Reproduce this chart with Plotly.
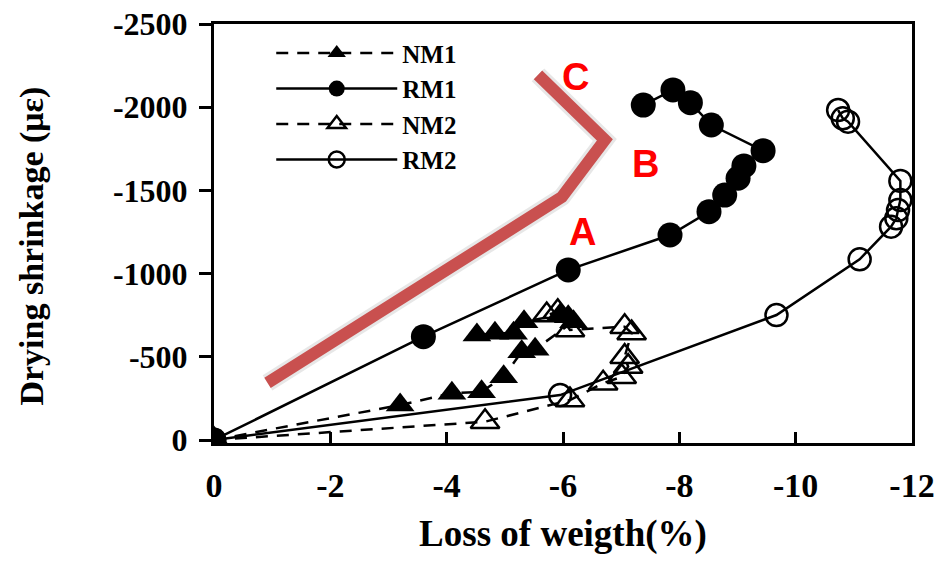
import plotly.graph_objects as go

# loss of weight (%) and drying shrinkage (micro strain)
nm1_loss = [0, -3.20, -4.09, -4.60, -4.98, -5.29, -5.52, -6.18, -6.09, -5.95, -5.33, -5.15, -4.83, -4.52]
nm1_shrink = [0, -210, -281, -290, -380, -531, -545, -711, -741, -751, -711, -641, -641, -631]

rm1_loss = [0, -3.60, -6.09, -7.84, -8.51, -8.78, -9.01, -9.11, -9.44, -8.55, -8.19, -7.89, -7.38]
rm1_shrink = [0, -621, -1022, -1232, -1372, -1472, -1573, -1647, -1739, -1893, -2027, -2104, -2013]

nm2_loss = [0, -4.66, -6.12, -6.69, -7.01, -7.12, -7.06, -7.18, -7.06, -6.12, -5.91, -5.72]
nm2_shrink = [0, -110, -240, -341, -380, -441, -501, -643, -681, -661, -771, -751]

rm2_loss = [0, -5.95, -9.67, -11.10, -11.64, -11.73, -11.76, -11.80, -11.80, -10.90, -10.81, -10.73]
rm2_shrink = [0, -270, -751, -1086, -1282, -1332, -1382, -1442, -1557, -1913, -1933, -1983]

# red guide line and its labels
guide_loss = [-0.92, -5.98, -6.72, -5.57]
guide_shrink = [-343, -1460, -1803, -2194]
stage_labels = ["A", "B", "C"]
stage_loss = [-6.33, -7.42, -6.22]
stage_shrink = [-1250, -1659, -2182]

x_ticks = [0, -2, -4, -6, -8, -10, -12]
x_ticktext = ["0", "-2", "-4", "-6", "-8", "-10", "-12"]
y_ticks = [0, -500, -1000, -1500, -2000, -2500]
y_ticktext = ["0", "-500", "-1000", "-1500", "-2000", "-2500"]

serif = "Liberation Serif"

fig = go.Figure()

# soft shadow + red stroke
fig.add_trace(go.Scatter(x=guide_loss, y=guide_shrink, mode="lines", showlegend=False,
                         line=dict(color="rgba(120,120,120,0.18)", width=18), hoverinfo="skip"))
fig.add_trace(go.Scatter(x=guide_loss, y=guide_shrink, mode="lines", showlegend=False,
                         line=dict(color="#c9504f", width=12), hoverinfo="skip"))

fig.add_trace(go.Scatter(x=nm1_loss, y=nm1_shrink, mode="lines+markers", name="NM1",
                         line=dict(color="black", width=2.5, dash="12px,9px"),
                         marker=dict(symbol="triangle-up", size=25, color="black")))
fig.add_trace(go.Scatter(x=rm1_loss, y=rm1_shrink, mode="lines+markers", name="RM1",
                         line=dict(color="black", width=2.5),
                         marker=dict(symbol="circle", size=25, color="black")))
fig.add_trace(go.Scatter(x=nm2_loss, y=nm2_shrink, mode="lines+markers", name="NM2",
                         line=dict(color="black", width=2.5, dash="12px,9px"),
                         marker=dict(symbol="triangle-up-open", size=25, color="black",
                                     line=dict(width=2.5))))
fig.add_trace(go.Scatter(x=rm2_loss, y=rm2_shrink, mode="lines+markers", name="RM2",
                         line=dict(color="black", width=2.5),
                         marker=dict(symbol="circle-open", size=22, color="black",
                                     line=dict(width=2.5))))

for lab, lx, ly in zip(stage_labels, stage_loss, stage_shrink):
    fig.add_annotation(x=lx, y=ly, text=lab, showarrow=False,
                       font=dict(family="Liberation Sans", size=38, color="#ff0000", weight="bold"))

# y title as a rotated annotation so it can sit a little below the axis middle
fig.add_annotation(xref="paper", yref="paper", x=-0.26, y=0.47, text="Drying shrinkage (με)",
                   textangle=-90, showarrow=False, xanchor="center", yanchor="middle",
                   font=dict(family=serif, size=34, color="black", weight="bold"))

fig.update_xaxes(range=[0, -12], tickvals=x_ticks, ticktext=x_ticktext, ticks="inside",
                 ticklen=11, tickwidth=2.5, tickcolor="black", showline=True, linewidth=3,
                 linecolor="black", mirror=True, showgrid=False, zeroline=False,
                 ticklabelstandoff=10, automargin=False,
                 tickfont=dict(family=serif, size=34, color="black", weight="bold"),
                 title=dict(text="Loss of weigth(%)", standoff=18,
                            font=dict(family=serif, size=37, color="black", weight="bold")))
fig.update_yaxes(range=[18, -2500], tickvals=y_ticks, ticktext=y_ticktext, ticks="outside",
                 ticklen=12, tickwidth=2.5, tickcolor="black", showline=True, linewidth=3,
                 linecolor="black", mirror=True, showgrid=False, zeroline=False,
                 automargin=False, ticklabelstandoff=5,
                 tickfont=dict(family=serif, size=32, color="black", weight="bold"))

fig.update_layout(
    width=941, height=572,
    margin=dict(l=214, r=29, t=24, b=129),
    paper_bgcolor="white", plot_bgcolor="white",
    legend=dict(x=0.082, y=0.985, xanchor="left", yanchor="top", bgcolor="rgba(0,0,0,0)",
                itemwidth=121, font=dict(family=serif, size=25, color="black", weight="bold")),
)

# drop the default page margin so the figure fills the window exactly
fig.write_html("out.html", config={"displayModeBar": False},
               post_script="document.body.style.margin='0';")
